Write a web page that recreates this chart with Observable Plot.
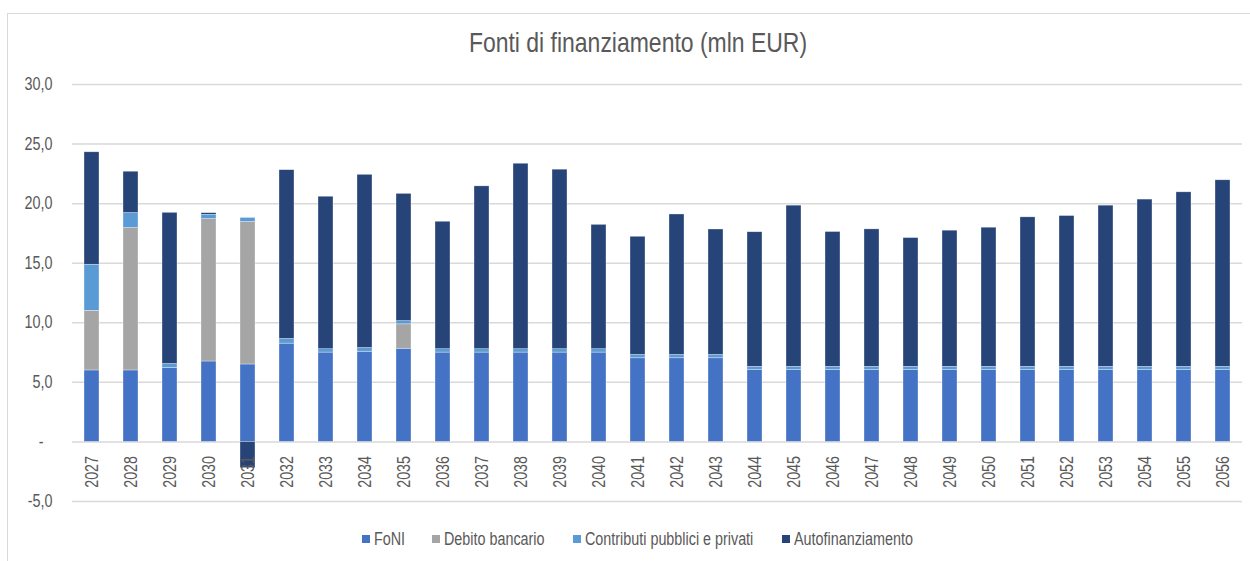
<!DOCTYPE html>
<html>
<head>
<meta charset="utf-8">
<script src="https://cdn.jsdelivr.net/npm/d3@7"></script>
<script src="https://cdn.jsdelivr.net/npm/@observablehq/plot@0.6"></script>
<style>
  html, body { margin: 0; padding: 0; background: #fff; }
  #wrap { position: relative; width: 1250px; height: 561px; overflow: hidden; background: #fff;
          font-family: "Liberation Sans", Arial, sans-serif; color: #595959; }
  #frame { position: absolute; left: 7px; top: 13px; width: 1262px; height: 600px; border: 1.5px solid #d9d9d9; box-sizing: border-box; }
  #chart { position: absolute; left: 0; top: 0; }
  #title { position: absolute; left: 0; width: 1276px; top: 29px; text-align: center; font-size: 28px; line-height: 28px; color: #595959; white-space: nowrap; transform: scaleX(0.82); transform-origin: 638px 0; }
  .sw { position: absolute; top: 535px; width: 8px; height: 8px; }
  .lt { position: absolute; top: 530px; font-size: 17.5px; line-height: 18px; color: #595959; white-space: nowrap; transform: scaleX(0.82); transform-origin: 0 0; }
</style>
</head>
<body>
<div id="wrap">
  <div id="frame"></div>
  <div id="chart"></div>
  <div id="title">Fonti di finanziamento (mln EUR)</div>
</div>
<script>
const years = ["2027","2028","2029","2030","2031","2032","2033","2034","2035","2036",
               "2037","2038","2039","2040","2041","2042","2043","2044","2045","2046",
               "2047","2048","2049","2050","2051","2052","2053","2054","2055","2056"];

const seriesNames = ["FoNI", "Debito bancario", "Contributi pubblici e privati", "Autofinanziamento"];
const seriesColors = ["#4472C4", "#A5A5A5", "#5B9BD5", "#264478"];

const foni = [6.0, 6.0, 6.2, 6.75, 6.5, 8.25, 7.5, 7.57, 7.82, 7.5,
              7.5, 7.5, 7.5, 7.5, 7.02, 7.02, 7.02, 6.02, 6.02, 6.02,
              6.02, 6.02, 6.02, 6.02, 6.02, 6.02, 6.02, 6.02, 6.02, 6.02];
const debito = [5.0, 11.95, 0, 11.95, 11.96, 0, 0, 0, 2.05, 0,
                0, 0, 0, 0, 0, 0, 0, 0, 0, 0,
                0, 0, 0, 0, 0, 0, 0, 0, 0, 0];
const contributi = [3.87, 1.26, 0.34, 0.36, 0.34, 0.39, 0.28, 0.31, 0.27, 0.28,
                    0.28, 0.28, 0.28, 0.28, 0.28, 0.28, 0.28, 0.28, 0.28, 0.28,
                    0.28, 0.28, 0.28, 0.28, 0.28, 0.28, 0.28, 0.28, 0.28, 0.28];
const autofin = [9.44, 3.47, 12.69, 0.14, -2.2, 14.17, 12.8, 14.54, 10.68, 10.7,
                 13.67, 15.57, 15.07, 10.44, 9.92, 11.79, 10.53, 11.3, 13.53, 11.32,
                 11.54, 10.81, 11.43, 11.68, 12.55, 12.66, 13.53, 14.04, 14.65, 15.66];

const yTicks = [-5, 0, 5, 10, 15, 20, 25, 30];

const seriesValues = [foni, debito, contributi, autofin];
const data = [];
seriesNames.forEach((s, si) => {
  years.forEach((yr, i) => data.push({year: yr, series: s, value: seriesValues[si][i]}));
});

const fmt = d => d === 0 ? "-" : d.toFixed(1).replace(".", ",");
const fontFam = '"Liberation Sans", Arial, sans-serif';

const chart = Plot.plot({
  width: 1250,
  height: 561,
  marginLeft: 72,
  marginRight: 8,
  marginTop: 84,
  marginBottom: 60,
  style: {fontFamily: fontFam, fontSize: "17.5px", color: "#595959", background: "transparent", overflow: "visible"},
  x: {type: "band", domain: years, paddingInner: 0.615, paddingOuter: 0.3075, axis: null},
  y: {domain: [-5, 30], axis: null},
  color: {domain: seriesNames, range: seriesColors},
  marks: [
    Plot.gridY(yTicks, {stroke: "#d9d9d9", strokeOpacity: 1, strokeWidth: 1.5}),
    Plot.barY(data, {x: "year", y: "value", fill: "series", order: seriesNames,
                     stroke: "#ffffff", strokeWidth: 0.6, strokeOpacity: 0.55}),
    Plot.text(yTicks.filter(d => d !== 0), {y: d => d, text: fmt, frameAnchor: "left", textAnchor: "end", dx: -20, fill: "#595959"}),
    Plot.text([0], {y: d => d, text: fmt, frameAnchor: "left", textAnchor: "end", dx: -29, fill: "#595959"}),
    Plot.text(years, {x: d => d, y: () => 0, text: d => d, rotate: -90, textAnchor: "end", dy: 14, fill: "#595959", lineAnchor: "middle"})
  ]
});
document.getElementById("chart").appendChild(chart);

// condense SVG text to mimic a narrow face
chart.querySelectorAll("text").forEach(t => {
  const L = t.getComputedTextLength();
  if (L > 0) {
    t.setAttribute("textLength", (L * 0.82).toFixed(2));
    t.setAttribute("lengthAdjust", "spacingAndGlyphs");
  }
});

// legend
const legendSw = [362, 432, 573, 782];
const wrap = document.getElementById("wrap");
seriesNames.forEach((s, i) => {
  const sw = document.createElement("div");
  sw.className = "sw";
  sw.style.left = legendSw[i] + "px";
  sw.style.background = seriesColors[i];
  wrap.appendChild(sw);
  const tx = document.createElement("div");
  tx.className = "lt";
  tx.style.left = (legendSw[i] + 12) + "px";
  tx.textContent = s;
  wrap.appendChild(tx);
});
</script>
</body>
</html>
